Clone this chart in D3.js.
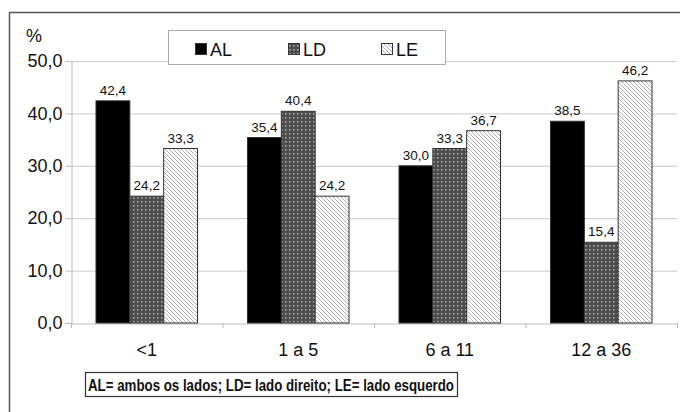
<!DOCTYPE html>
<html><head><meta charset="utf-8">
<script src="https://cdn.jsdelivr.net/npm/d3@7"></script>
<style>body{margin:0;background:#fff}svg{display:block}text{font-family:"Liberation Sans",Arial,Helvetica,sans-serif;fill:#111}</style>
</head><body>
<svg id="c" width="680" height="412"></svg>
<script>
const categories = ["<1", "1 a 5", "6 a 11", "12 a 36"];
const seriesNames = ["AL", "LD", "LE"];
const AL = [42.4, 35.4, 30.0, 38.5];
const LD = [24.2, 40.4, 33.3, 15.4];
const LE = [33.3, 24.2, 36.7, 46.2];
const yTicks = [0, 10, 20, 30, 40, 50];
const footnote = "AL= ambos os lados; LD= lado direito; LE= lado esquerdo";
const seriesValues = {AL, LD, LE};

const svg = d3.select("#c");
const defs = svg.append("defs");
// dotted pattern for LD
const pd = defs.append("pattern").attr("id","dots").attr("patternUnits","userSpaceOnUse").attr("width",4).attr("height",4);
pd.append("rect").attr("width",4).attr("height",4).attr("fill","#4d4d4d");
pd.append("rect").attr("x",1).attr("y",1).attr("width",1.6).attr("height",1.6).attr("fill","#a8a8a8");
// diagonal stripes for LE
const ps = defs.append("pattern").attr("id","stripes").attr("patternUnits","userSpaceOnUse").attr("width",4).attr("height",4);
ps.append("rect").attr("width",4).attr("height",4).attr("fill","#fff");
ps.append("path").attr("d","M-1,-1L5,5M-1,3L1,5M3,-1L5,1").attr("stroke","#a8a8a8").attr("stroke-width",0.9);
const fills = {AL:"#000", LD:"url(#dots)", LE:"url(#stripes)"};

// outer frame
svg.append("rect").attr("x",9.5).attr("y",12.5).attr("width",700).attr("height",450)
  .attr("fill","none").attr("stroke","#555").attr("stroke-width",1.5);

const pLeft = 71, pRight = 677, pTop = 61, pBottom = 323;
const y = d3.scaleLinear().domain([0,50]).range([pBottom, pTop]);
const x0 = d3.scaleBand().domain(categories).range([pLeft, pRight]).paddingInner(0.33).paddingOuter(0.165);
const x1 = d3.scaleBand().domain(seriesNames).range([0, x0.bandwidth()]);

// gridlines
svg.append("g").selectAll("line").data(yTicks.filter(d=>d>0)).join("line")
  .attr("x1",pLeft).attr("x2",pRight).attr("y1",d=>y(d)+0.5).attr("y2",d=>y(d)+0.5)
  .attr("stroke","#c8c8c8").attr("stroke-width",1);

// y axis
const yAxis = svg.append("g").attr("transform",`translate(${pLeft+0.5},0)`)
  .call(d3.axisLeft(y).tickValues(yTicks).tickSize(6).tickPadding(3).tickFormat(d=>d3.format(".1f")(d).replace(".",",")));
yAxis.select(".domain").attr("stroke","#bbb");
yAxis.selectAll(".tick line").attr("stroke","#bbb");
yAxis.selectAll("text").attr("font-size",18).attr("fill","#111").attr("font-family",'"Liberation Sans",Arial,sans-serif');

// x axis
const xAxis = svg.append("g").attr("transform",`translate(0,${pBottom+0.5})`)
  .call(d3.axisBottom(x0).tickSize(0).tickPadding(20));
xAxis.select(".domain").attr("stroke","#bbb");
xAxis.selectAll("text").attr("font-size",18).attr("fill","#111").attr("font-family",'"Liberation Sans",Arial,sans-serif');
// boundary ticks between groups
svg.append("g").selectAll("line").data(d3.range(categories.length+1)).join("line")
  .attr("x1",i=>pLeft + i*(pRight-pLeft)/categories.length + 0.5).attr("x2",i=>pLeft + i*(pRight-pLeft)/categories.length + 0.5)
  .attr("y1",pBottom).attr("y2",pBottom+5).attr("stroke","#bbb");

// bars
const rows = [];
categories.forEach((c,i)=>seriesNames.forEach(s=>rows.push({c, s, v: seriesValues[s][i]})));
svg.append("g").selectAll("rect").data(rows).join("rect")
  .attr("x",d=>x0(d.c)+x1(d.s)).attr("y",d=>y(d.v))
  .attr("width",x1.bandwidth()).attr("height",d=>y(0)-y(d.v))
  .attr("fill",d=>fills[d.s]).attr("stroke","#333").attr("stroke-width",1);

// value labels
svg.append("g").selectAll("text").data(rows).join("text")
  .attr("x",d=>x0(d.c)+x1(d.s)+x1.bandwidth()/2).attr("y",d=>y(d.v)-6)
  .attr("text-anchor","middle").attr("font-size",13.5)
  .text(d=>d3.format(".1f")(d.v).replace(".",","));

// % label
svg.append("text").attr("x",26).attr("y",42).attr("font-size",18).text("%");

// legend
const lg = svg.append("g");
lg.append("rect").attr("x",168.5).attr("y",30.5).attr("width",277).attr("height",34)
  .attr("fill","#fff").attr("stroke","#aaa");
const lx = [195, 288, 381];
seriesNames.forEach((s,i)=>{
  lg.append("rect").attr("x",lx[i]+0.5).attr("y",43.5).attr("width",11).attr("height",11)
    .attr("fill",fills[s]).attr("stroke","#333");
  lg.append("text").attr("x",lx[i]+15).attr("y",55.5).attr("font-size",18).text(s);
});

// footnote
svg.append("rect").attr("x",85.5).attr("y",372.5).attr("width",372).attr("height",24)
  .attr("fill","#fff").attr("stroke","#333").attr("stroke-width",1.2);
svg.append("text").attr("x",88).attr("y",390.5).attr("font-size",16.5).attr("font-weight","bold")
  .attr("textLength",366).attr("lengthAdjust","spacingAndGlyphs").text(footnote);
</script>
</body></html>
